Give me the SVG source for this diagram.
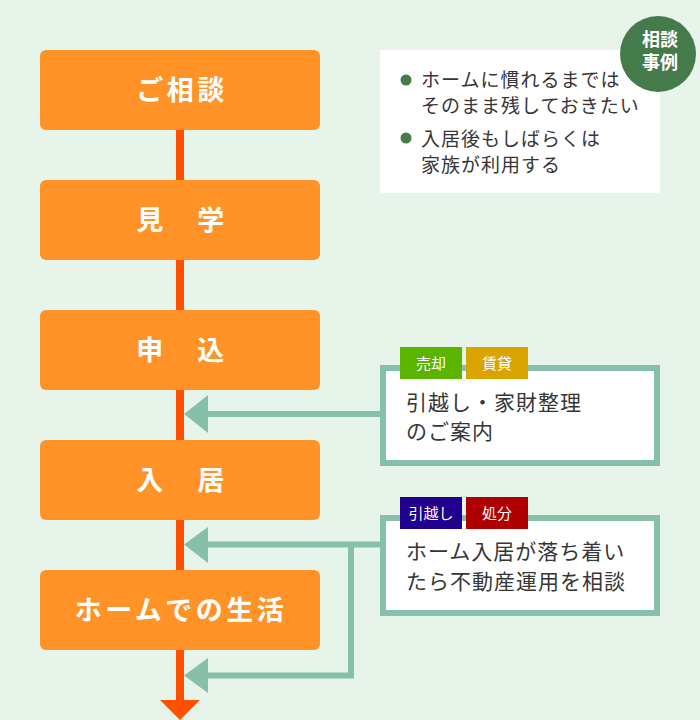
<svg xmlns="http://www.w3.org/2000/svg" width="700" height="720" viewBox="0 0 700 720">
<style>
.step{fill:#FF9327}
.stepTxt{fill:#fff;font-family:"Noto Sans CJK JP","Noto Sans",sans-serif;font-weight:bold;font-size:27px;letter-spacing:3.5px;text-anchor:middle}
.conn{fill:none;stroke:#86C0AA;stroke-width:6}
.head{fill:#86C0AA}
.body{font-family:"Noto Sans CJK JP","Noto Sans",sans-serif;fill:#363636}
.tag{fill:#fff;font-family:"Noto Sans CJK JP","Noto Sans",sans-serif;font-size:15px;text-anchor:middle}
</style>
<rect width="700" height="720" fill="#E7F4EA"/>

<g id="flow-line">
<rect x="176" y="128" width="8" height="573" fill="#FF5000"/>
<polygon points="160,700 200,700 180,720" fill="#FF5000"/>
</g>

<g id="step-1"><rect class="step" x="40" y="50" width="280" height="80" rx="6"/><text class="stepTxt" x="182" y="100">ご相談</text></g>
<g id="step-2"><rect class="step" x="40" y="180" width="280" height="80" rx="6"/><text class="stepTxt" x="182" y="230">見　学</text></g>
<g id="step-3"><rect class="step" x="40" y="310" width="280" height="80" rx="6"/><text class="stepTxt" x="182" y="360">申　込</text></g>
<g id="step-4"><rect class="step" x="40" y="440" width="280" height="80" rx="6"/><text class="stepTxt" x="182" y="490">入　居</text></g>
<g id="step-5"><rect class="step" x="40" y="570" width="280" height="80" rx="6"/><text class="stepTxt" x="181" y="620" letter-spacing="2.5">ホームでの生活</text></g>

<g id="connectors">
<line class="conn" x1="205" y1="414" x2="383" y2="414"/>
<polygon class="head" points="184,414 208,395 208,433"/>
<line class="conn" x1="205" y1="544.5" x2="383" y2="544.5"/>
<polygon class="head" points="184,544.5 208,527 208,563"/>
<polyline class="conn" points="351,544.5 351,675.5 205,675.5"/>
<polygon class="head" points="184,675.5 208,658 208,693"/>
</g>

<g id="note">
<rect x="380" y="50" width="280" height="143" fill="#fff"/>
<circle cx="406" cy="80" r="5.5" fill="#457A4B"/>
<circle cx="406" cy="138" r="5.5" fill="#457A4B"/>
<text class="body" font-size="19" letter-spacing="1">
<tspan x="421" y="87">ホームに慣れるまでは</tspan>
<tspan x="421" y="113">そのまま残しておきたい</tspan>
<tspan x="421" y="146">入居後もしばらくは</tspan>
<tspan x="421" y="172">家族が利用する</tspan>
</text>
</g>

<g id="badge">
<circle cx="658" cy="54" r="38" fill="#457A4B"/>
<text fill="#fff" font-family="'Noto Sans CJK JP','Noto Sans',sans-serif" font-weight="bold" font-size="18" text-anchor="middle"><tspan x="660" y="46">相談</tspan><tspan x="660" y="69">事例</tspan></text>
</g>

<g id="case-1">
<rect x="383" y="368" width="274" height="95" fill="#fff" stroke="#86C0AA" stroke-width="6"/>
<rect x="400" y="347" width="62" height="32" fill="#5AB400"/>
<text class="tag" x="431" y="369">売却</text>
<rect x="466" y="347" width="62" height="32" fill="#D9A300"/>
<text class="tag" x="497" y="369">賃貸</text>
<text class="body" font-size="21" letter-spacing="1"><tspan x="406" y="410">引越し・家財整理</tspan><tspan x="406" y="439">のご案内</tspan></text>
</g>

<g id="case-2">
<rect x="383" y="518" width="274" height="95" fill="#fff" stroke="#86C0AA" stroke-width="6"/>
<rect x="400" y="497" width="62" height="32" fill="#20008C"/>
<text class="tag" x="431" y="519">引越し</text>
<rect x="466" y="497" width="62" height="32" fill="#AE0000"/>
<text class="tag" x="497" y="519">処分</text>
<text class="body" font-size="21" letter-spacing="1"><tspan x="406" y="559">ホーム入居が落ち着い</tspan><tspan x="406" y="589">たら不動産運用を相談</tspan></text>
</g>
</svg>
